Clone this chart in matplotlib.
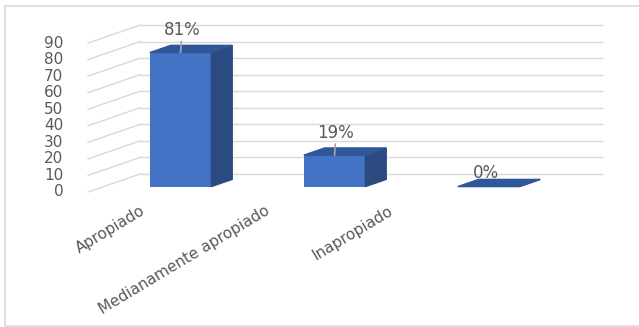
import matplotlib.pyplot as plt
from matplotlib.patches import Polygon, Rectangle

categories = ["Apropiado", "Medianamente apropiado", "Inapropiado"]
values = [81, 19, 0]
value_labels = ["81%", "19%", "0%"]
yticks = list(range(0, 100, 10))

# pixel layout of the fake 3D box (front floor corner, category width, px per unit)
X0_PX, CAT_PX, Y0_PX, VAL_PX = 88, 154, 192, 1.655
W_PX, H_PX = 639, 327
DX = 52 / CAT_PX       # floor depth, in category units
DY = 18 / VAL_PX       # floor depth, in value units
BAR_W = 0.4
GAP = 0.3               # depth gap in front of the bar (fraction of depth)
BAR_D = 0.4             # bar depth (fraction of depth)

FRONT = "#4472C4"
SIDE = "#2B4A80"
TOP = "#30569A"
GRID = "#D9D9D9"
TXT = "#595959"

fig = plt.figure(figsize=(W_PX / 100, H_PX / 100), dpi=100)
ax = fig.add_axes([0, 0, 1, 1])
ax.set_xlim(-X0_PX / CAT_PX, (W_PX - X0_PX) / CAT_PX)
ax.set_ylim((Y0_PX - H_PX) / VAL_PX, Y0_PX / VAL_PX)
ax.axis("off")

# outer chart border
fig.patches.append(Rectangle((5 / W_PX, 1 / H_PX), 1.0, (H_PX - 7) / H_PX,
                             transform=fig.transFigure, fill=False,
                             edgecolor="#D9D9D9", linewidth=1.2))

n = len(categories)
for v in yticks:
    ax.plot([0, DX], [v, v + DY], color=GRID, lw=1, zorder=1)
    ax.plot([DX, n + DX], [v + DY, v + DY], color=GRID, lw=1, zorder=1)
    ax.text(-0.16, v, str(v), ha="right", va="center", fontsize=11, color=TXT)

for i, (val, lab) in enumerate(zip(values, value_labels)):
    x0 = i + (1 - BAR_W) / 2 + GAP * DX
    y0 = GAP * DY
    bdx, bdy = BAR_D * DX, BAR_D * DY
    ax.bar(x0, val, width=BAR_W, bottom=y0, align="edge", color=FRONT,
           zorder=3)
    side = [(x0 + BAR_W, y0), (x0 + BAR_W + bdx, y0 + bdy),
            (x0 + BAR_W + bdx, y0 + bdy + val), (x0 + BAR_W, y0 + val)]
    top = [(x0, y0 + val), (x0 + BAR_W, y0 + val),
           (x0 + BAR_W + bdx, y0 + val + bdy), (x0 + bdx, y0 + val + bdy)]
    ax.add_patch(Polygon(side, closed=True, color=SIDE, zorder=3))
    ax.add_patch(Polygon(top, closed=True, color=TOP, zorder=3))

    xc = x0 + BAR_W / 2
    if val > 0:
        ax.annotate(lab, xy=(xc, y0 + val), xytext=(1, 16),
                    textcoords="offset points", ha="center", va="center",
                    fontsize=12, color=TXT, zorder=4,
                    arrowprops=dict(arrowstyle="-", color="#A6A6A6", lw=1.2,
                                    patchA=None, shrinkA=8, shrinkB=0,
                                    zorder=5))
    else:
        ax.annotate(lab, xy=(xc, y0 + val), xytext=(-2, 10),
                    textcoords="offset points", ha="center", va="center",
                    fontsize=12, color=TXT, zorder=4)

    # category labels, slanted like the original
    ax.text(0.34 + 0.805 * i, -6.5, categories[i], rotation=31,
            rotation_mode="anchor", ha="right", va="top", fontsize=11,
            color=TXT)

fig.savefig("out.png", dpi=100)
